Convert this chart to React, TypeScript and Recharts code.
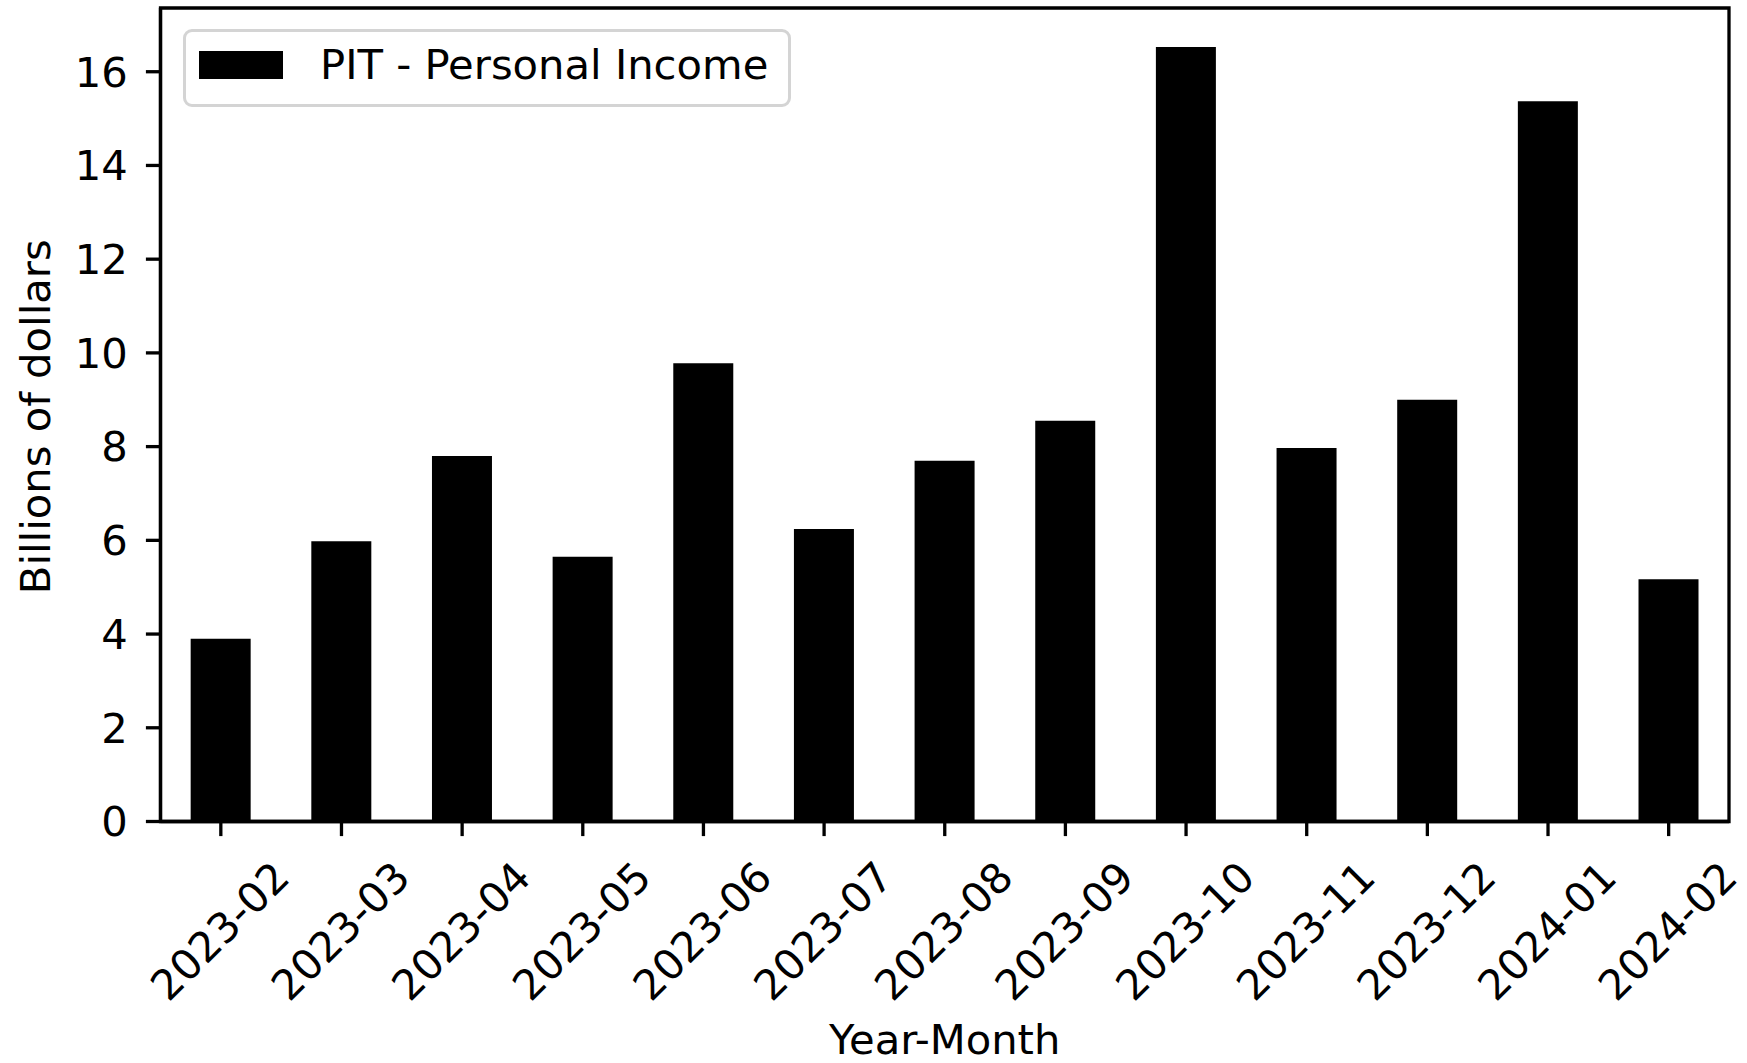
import { Bar, BarChart, Legend, ReferenceArea, XAxis, YAxis } from 'recharts';

const months = [
  '2023-02', '2023-03', '2023-04', '2023-05', '2023-06', '2023-07', '2023-08',
  '2023-09', '2023-10', '2023-11', '2023-12', '2024-01', '2024-02',
];
const pitValues = [3.9, 5.98, 7.8, 5.65, 9.78, 6.24, 7.7, 8.55, 16.53, 7.97, 9.0, 15.37, 5.17];
const yTicks = [0, 2, 4, 6, 8, 10, 12, 14, 16];
const yMax = 17.36;

const seriesName = 'PIT - Personal Income';
const FONT = '"DejaVu Sans", sans-serif';
const FS = 41.7;
const LW = 3.3;

const data = months.map((m, i) => ({ month: m, pit: pitValues[i] }));

const XTick = ({ x, y, payload }: any) => (
  <text
    transform={`translate(${x - 1},${y + 95}) rotate(-45)`}
    textAnchor="middle"
    dominantBaseline="central"
    fontFamily={FONT}
    fontSize={FS}
    fill="#000"
  >
    {payload.value}
  </text>
);

const LegendBox = ({ payload }: any) => (
  <div
    style={{
      position: 'relative',
      boxSizing: 'border-box',
      width: 608,
      height: 78,
      border: '3px solid #d4d4d4',
      borderRadius: 9,
      background: 'rgba(255,255,255,0.8)',
      fontFamily: FONT,
      fontSize: FS,
      lineHeight: 1,
    }}
  >
    {(payload || []).map((p: any) => (
      <div key={p.value}>
        <div style={{ position: 'absolute', left: 13, top: 19, width: 84, height: 28, background: '#000' }} />
        <div style={{ position: 'absolute', left: 134, top: 12, whiteSpace: 'nowrap', color: '#000' }}>{p.value}</div>
      </div>
    ))}
  </div>
);

export default function App() {
  return (
    <div style={{ position: 'absolute', left: 0, top: 0, width: 1747, height: 1063, background: '#fff' }}>
      <BarChart
        width={1747}
        height={1063}
        data={data}
        margin={{ top: 8, right: 18, bottom: 0, left: 0 }}
        barCategoryGap="25%"
      >
        <XAxis
          dataKey="month"
          height={241.5}
          interval={0}
          tick={<XTick />}
          tickSize={14.6}
          tickMargin={0}
          axisLine={{ stroke: '#000', strokeWidth: LW }}
          tickLine={{ stroke: '#000', strokeWidth: LW }}
          label={{
            content: ({ viewBox }: any) => (
              <text
                x={viewBox.x + viewBox.width / 2}
                y={viewBox.y + viewBox.height - 9}
                textAnchor="middle"
                fontFamily={FONT}
                fontSize={FS}
                fill="#000"
              >
                Year-Month
              </text>
            ),
          }}
        />
        <YAxis
          width={160.5}
          domain={[0, yMax]}
          ticks={yTicks}
          interval={0}
          tickSize={14.6}
          tickMargin={18}
          tick={{ fill: '#000', fontSize: FS, fontFamily: FONT }}
          axisLine={{ stroke: '#000', strokeWidth: LW }}
          tickLine={{ stroke: '#000', strokeWidth: LW }}
          label={{
            content: ({ viewBox }: any) => {
              const cy = viewBox.y + viewBox.height / 2 + 2;
              return (
                <text
                  x={49.5}
                  y={cy}
                  transform={`rotate(-90, 49.5, ${cy})`}
                  textAnchor="middle"
                  fontFamily={FONT}
                  fontSize={FS}
                  fill="#000"
                >
                  Billions of dollars
                </text>
              );
            },
          }}
        />
        <Legend
          layout="horizontal"
          verticalAlign="middle"
          align="center"
          content={<LegendBox />}
          wrapperStyle={{ left: 183, top: 29, width: 'auto', height: 'auto' }}
        />
        <Bar dataKey="pit" name={seriesName} fill="#000" isAnimationActive={false} />
        <ReferenceArea y1={0} y2={yMax} fill="none" fillOpacity={0} stroke="#000" strokeWidth={LW} ifOverflow="visible" />
      </BarChart>
    </div>
  );
}
